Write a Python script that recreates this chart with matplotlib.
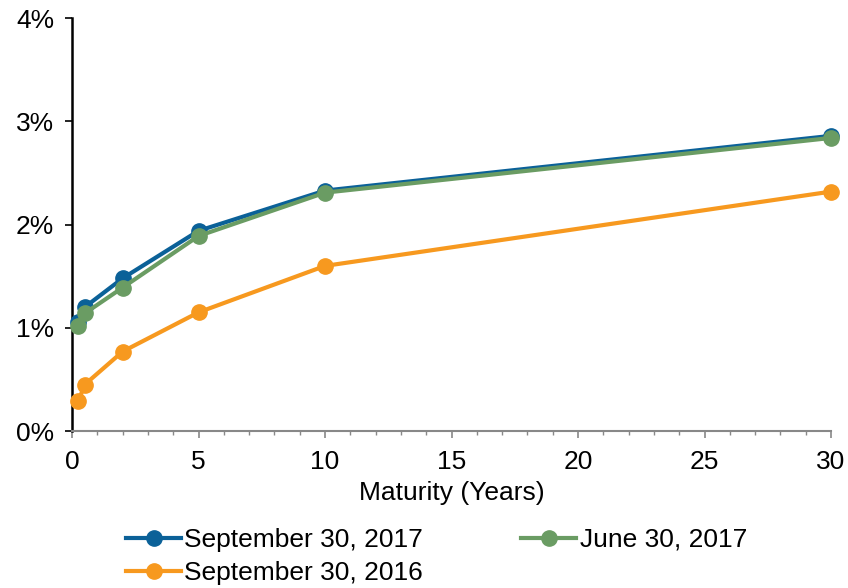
import matplotlib
matplotlib.use("Agg")
import matplotlib.pyplot as plt
from matplotlib.ticker import MultipleLocator, FuncFormatter

plt.rcParams['font.family'] = ['Liberation Sans', 'DejaVu Sans']

maturities = [0.25, 0.5, 2, 5, 10, 30]
sep_2017 = [1.06, 1.20, 1.48, 1.94, 2.33, 2.86]
jun_2017 = [1.02, 1.14, 1.39, 1.89, 2.31, 2.84]
sep_2016 = [0.29, 0.45, 0.77, 1.15, 1.60, 2.32]
labels = ["September 30, 2017", "June 30, 2017", "September 30, 2016"]
colors = ["#0B6198", "#6A9C63", "#F7991F"]

fig = plt.figure(figsize=(8.48, 5.88), dpi=100)
ax = fig.add_axes([0.085, 0.267, 0.895, 0.702])

handles = []
for vals, lab, col in zip([sep_2017, jun_2017, sep_2016], labels, colors):
    h, = ax.plot(maturities, vals, color=col, lw=3, marker='o', markersize=11,
                 label=lab, clip_on=False, zorder=3)
    handles.append(h)

ax.set_xlim(0, 30)
ax.set_ylim(0, 4)
ax.xaxis.set_major_locator(MultipleLocator(5))
ax.xaxis.set_minor_locator(MultipleLocator(1))
ax.yaxis.set_major_locator(MultipleLocator(1))
ax.yaxis.set_major_formatter(FuncFormatter(lambda v, p: f"{int(round(v))}%"))

for s in ['top', 'right']:
    ax.spines[s].set_visible(False)
ax.spines['left'].set_color('black')
ax.spines['left'].set_linewidth(1.8)
ax.spines['bottom'].set_color('#888888')
ax.spines['bottom'].set_linewidth(1.5)

ax.tick_params(axis='y', which='major', direction='out', length=5, width=1.2,
               color='black', labelsize=19, pad=8)
ax.tick_params(axis='x', which='major', direction='out', length=5, width=1.2,
               color='#888888', labelsize=19, pad=9, labelcolor='black')
ax.tick_params(axis='x', which='minor', direction='out', length=3, width=1.0,
               color='#888888')

ax.set_xlabel("Maturity (Years)", fontsize=19, labelpad=5)

order = [0, 2, 1]
fig.legend([handles[i] for i in order], [labels[i] for i in order],
           loc='upper left', bbox_to_anchor=(0.136, 0.12), ncol=2,
           frameon=False, fontsize=19, handlelength=2.1, handletextpad=0.12,
           columnspacing=3.7, labelspacing=0.35, borderaxespad=0)

fig.savefig("out.png", dpi=100)
